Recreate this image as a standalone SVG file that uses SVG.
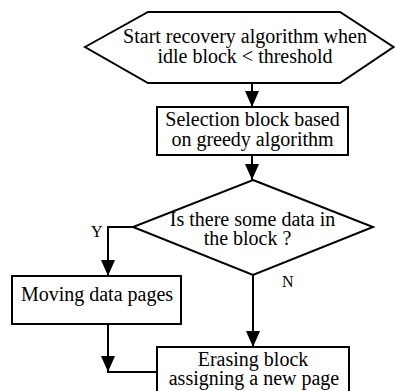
<svg xmlns="http://www.w3.org/2000/svg" width="395" height="391" viewBox="0 0 395 391">
<style>
.shape{fill:#fff;stroke:#000;stroke-width:2}
.t{font-family:"Liberation Serif","Times New Roman",serif;font-size:20px;fill:#000;text-anchor:middle}
.lbl{font-family:"Liberation Serif","Times New Roman",serif;font-size:16px;fill:#000}
.c{fill:none;stroke:#000;stroke-width:2}
</style>
<defs>
<marker id="ah" viewBox="0 0 16 14" refX="16" refY="7" markerWidth="16" markerHeight="14" orient="auto" markerUnits="userSpaceOnUse">
<path d="M0,0 L16,7 L0,14 z" fill="#000"/>
</marker>
</defs>
<rect width="395" height="391" fill="#fff"/>
<g id="start">
<polygon class="shape" points="85,47 148,12 340,12 393.5,47 340,83 148,83"/>
<text class="t" x="245" y="43">Start recovery algorithm when</text>
<text class="t" x="245" y="63">idle block &lt; threshold</text>
</g>
<g id="select">
<rect class="shape" x="157" y="107" width="191" height="48"/>
<text class="t" x="252.5" y="126">Selection block based</text>
<text class="t" x="252.5" y="146">on greedy algorithm</text>
</g>
<g id="decision">
<polygon class="shape" points="253,180 373,227 253,275 133,227"/>
<text class="t" x="252.5" y="226">Is there some data in</text>
<text class="t" x="247.5" y="245">the block ?</text>
</g>
<g id="moving">
<rect class="shape" x="12" y="276" width="169" height="48"/>
<text class="t" x="97" y="301">Moving data pages</text>
</g>
<g id="erasing">
<rect class="shape" x="157" y="347" width="192" height="60"/>
<text class="t" x="253" y="366">Erasing block</text>
<text class="t" x="254" y="385">assigning a new page</text>
</g>
<g id="connectors">
<line class="c" x1="252" y1="83" x2="252" y2="107" marker-end="url(#ah)"/>
<line class="c" x1="252" y1="155" x2="252" y2="180" marker-end="url(#ah)"/>
<polyline class="c" points="133,227 108,227 108,276" marker-end="url(#ah)"/>
<line class="c" x1="253" y1="275" x2="253" y2="347" marker-end="url(#ah)"/>
<line class="c" x1="108" y1="324" x2="108" y2="372" marker-end="url(#ah)"/>
<polyline class="c" points="107,372 157,372"/>
<text class="lbl" x="91" y="237">Y</text>
<text class="lbl" x="282" y="287">N</text>
</g>
</svg>
